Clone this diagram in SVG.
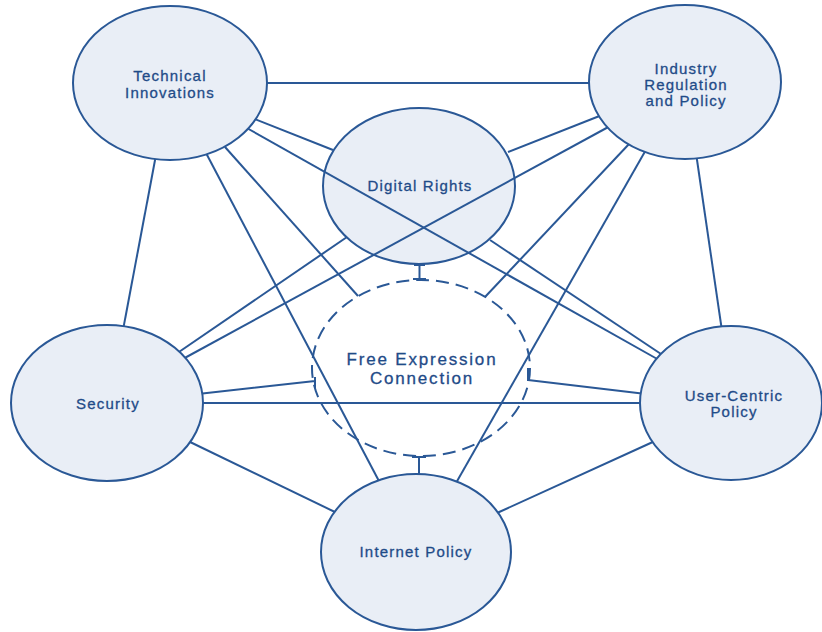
<svg xmlns="http://www.w3.org/2000/svg" width="822" height="632" viewBox="0 0 822 632">
  <style>
    .node { fill: #e9eef6; stroke: #2a5896; stroke-width: 2; }
    .fe { fill: none; stroke: #2a5896; stroke-width: 2; stroke-dasharray: 13 7; }
    .conn line, .conn path { stroke: #2a5896; stroke-width: 2; fill: none; stroke-linecap: butt; }
    .lbl { font-family: "Liberation Sans", Arial, Helvetica, sans-serif; font-size: 15px; letter-spacing: 1.2px; fill: #1f4b88; stroke: #1f4b88; stroke-width: 0.3px; text-anchor: middle; }
    .big { font-size: 17px; letter-spacing: 1.8px; }
  </style>
  <rect width="822" height="632" fill="#ffffff"/>

  <g id="digital-rights">
    <ellipse class="node" cx="419" cy="186" rx="96" ry="78"/>
    <text class="lbl" x="420" y="191">Digital Rights</text>
  </g>

  <g id="free-expression">
    <ellipse class="fe" cx="421" cy="368" rx="109" ry="88"/>
    <text class="lbl big" x="422" y="365">Free Expression</text>
    <text class="lbl big" x="422" y="384">Connection</text>
  </g>

  <g id="connectors" class="conn">
    <line x1="262" y1="83" x2="594" y2="83"/>
    <line x1="156" y1="155" x2="123" y2="330"/>
    <line x1="696" y1="153" x2="722" y2="331"/>
    <line x1="188" y1="441" x2="337" y2="513"/>
    <line x1="655" y1="441" x2="497" y2="513"/>
    <line x1="198" y1="403" x2="645" y2="403"/>
    <line x1="252" y1="118" x2="333" y2="150"/>
    <line x1="602" y1="115" x2="508" y2="152"/>
    <line x1="347" y1="237" x2="176" y2="354"/>
    <line x1="490" y1="240" x2="664" y2="356"/>
    <line x1="245" y1="127" x2="659" y2="360"/>
    <line x1="612" y1="125" x2="181" y2="360"/>
    <line x1="225" y1="147" x2="358" y2="296"/>
    <line x1="629" y1="144" x2="485" y2="297"/>
    <line x1="206" y1="153" x2="380" y2="483"/>
    <line x1="647" y1="148" x2="456" y2="483"/>
    <path d="M198 394 L315 381 M315 377 L315 388"/>
    <path d="M646 394 L528 380 M528 368 L528 381"/>
    <path d="M412 457 L426 457 M419 457 L419 476"/>
    <path d="M419.5 264 L419.5 280" stroke-width="4"/>
    <path d="M414 265 L425 265 M413 279 L426 279" stroke-width="2.2"/>
  </g>

  <g id="technical-innovations">
    <ellipse class="node" cx="170" cy="83" rx="97" ry="77"/>
    <text class="lbl" x="170" y="81">Technical</text>
    <text class="lbl" x="170" y="98">Innovations</text>
  </g>

  <g id="industry-regulation">
    <ellipse class="node" cx="685" cy="82" rx="96" ry="77"/>
    <text class="lbl" x="686" y="74">Industry</text>
    <text class="lbl" x="686" y="90">Regulation</text>
    <text class="lbl" x="686" y="106">and Policy</text>
  </g>

  <g id="security">
    <ellipse class="node" cx="107" cy="403" rx="96" ry="78"/>
    <text class="lbl" x="108" y="409">Security</text>
  </g>

  <g id="user-centric">
    <ellipse class="node" cx="731" cy="403" rx="91" ry="77"/>
    <text class="lbl" x="734" y="401">User-Centric</text>
    <text class="lbl" x="734" y="417">Policy</text>
  </g>

  <g id="internet-policy">
    <ellipse class="node" cx="416" cy="552" rx="95" ry="78"/>
    <text class="lbl" x="416" y="557">Internet Policy</text>
  </g>
</svg>
